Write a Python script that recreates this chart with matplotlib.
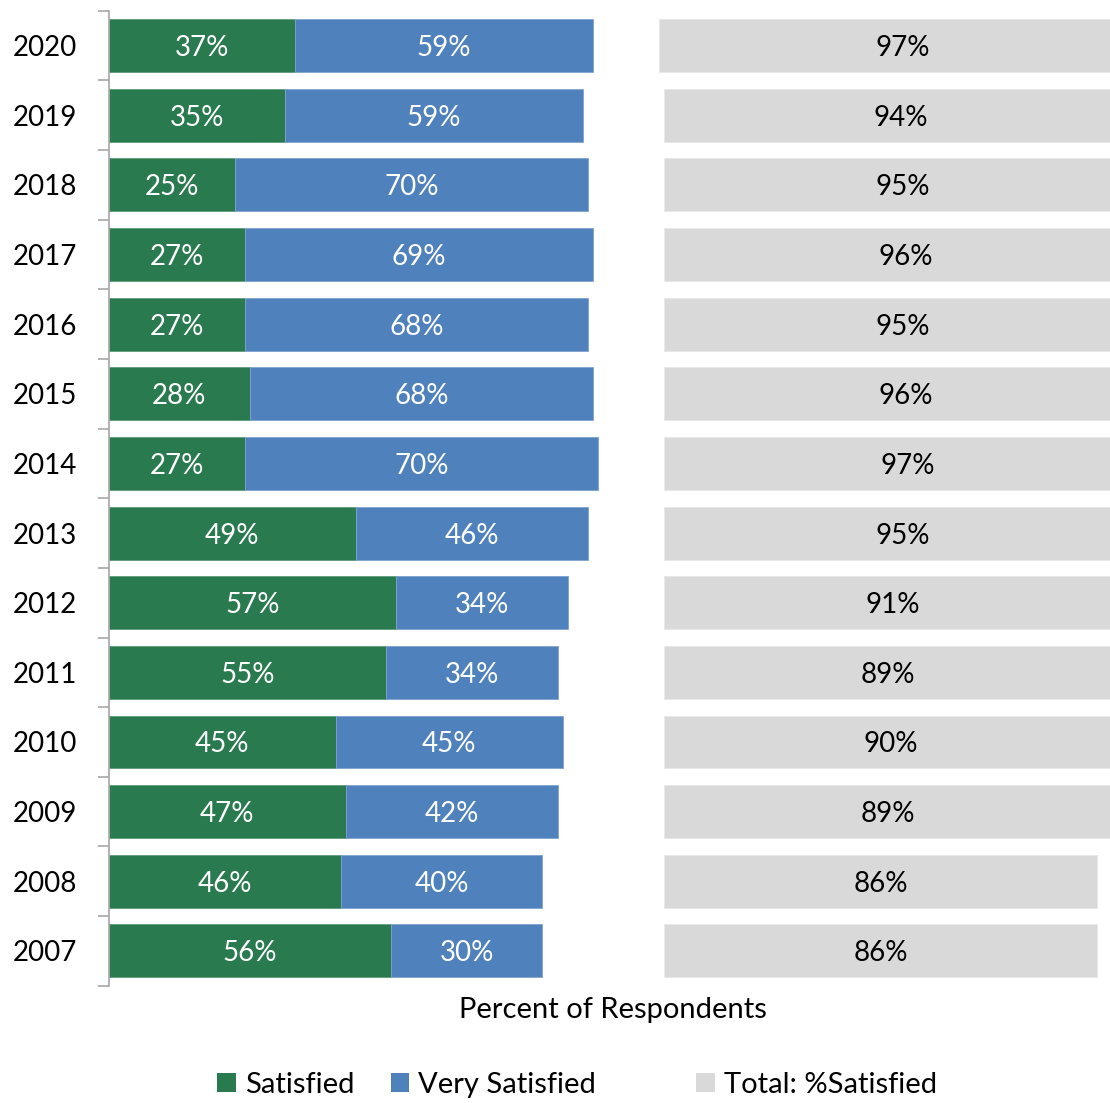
import numpy as np
import matplotlib.pyplot as plt
from matplotlib.patches import Patch

years = ['2020', '2019', '2018', '2017', '2016', '2015', '2014',
         '2013', '2012', '2011', '2010', '2009', '2008', '2007']
satisfied = [37, 35, 25, 27, 27, 28, 27, 49, 57, 55, 45, 47, 46, 56]
very_satisfied = [59, 59, 70, 69, 68, 68, 70, 46, 34, 34, 45, 42, 40, 30]
# invisible series that pushes the total bars over to the right
spacer = [13, 16, 15, 14, 15, 14, 13, 15, 19, 21, 20, 21, 24, 24]
total = [97, 94, 95, 96, 95, 96, 97, 95, 91, 89, 90, 89, 86, 86]

GREEN = '#2A7A50'
BLUE = '#4F81BD'
GRAY = '#D9D9D9'

plt.rcParams['font.family'] = ['Lato', 'DejaVu Sans']
FS = 20
FS_TEXT = 21

fig = plt.figure(figsize=(11.10, 11.03), dpi=100)
ax = fig.add_axes([0.0979, 0.1063, 1 - 0.0979, 0.9903 - 0.1063])

y = np.arange(len(years))
sat = np.array(satisfied)
vs = np.array(very_satisfied)
gap_start = sat + vs + np.array(spacer)
h = 0.76

ax.barh(y, sat, height=h, color=GREEN, edgecolor='#5E9A7A', linewidth=0.6)
ax.barh(y, vs, left=sat, height=h, color=BLUE, edgecolor='#7FA3CF', linewidth=0.6)
ax.barh(y, total, left=gap_start, height=h, color=GRAY, edgecolor='#E8E8E8', linewidth=0.6)

for i in range(len(years)):
    ax.text(sat[i] / 2, y[i], f'{satisfied[i]}%', color='white',
            ha='center', va='center_baseline', fontsize=FS)
    ax.text(sat[i] + vs[i] / 2, y[i], f'{very_satisfied[i]}%', color='white',
            ha='center', va='center_baseline', fontsize=FS)
    ax.text(gap_start[i] + total[i] / 2, y[i], f'{total[i]}%', color='black',
            ha='center', va='center_baseline', fontsize=FS)

ax.set_xlim(0, 198.5)
ax.set_ylim(len(years) - 0.5, -0.5)

ax.set_yticks(y)
ax.set_yticklabels(years, fontsize=FS, va='center_baseline')
ax.set_yticks(np.arange(-0.5, len(years), 1), minor=True)
ax.tick_params(axis='y', which='major', length=0, pad=23)
ax.tick_params(axis='y', which='minor', length=8, width=1.2, color='#A6A6A6')
ax.set_xticks([])

for side in ['top', 'right', 'bottom']:
    ax.spines[side].set_visible(False)
ax.spines['left'].set_color('#A6A6A6')
ax.spines['left'].set_linewidth(1.2)

ax.set_xlabel('Percent of Respondents', fontsize=FS_TEXT)
ax.xaxis.set_label_coords(0.504, -0.012)

# empty third entry stands in for the hidden spacer series
handles = [Patch(facecolor=GREEN), Patch(facecolor=BLUE),
           Patch(facecolor='none', edgecolor='none'), Patch(facecolor=GRAY)]
labels = ['Satisfied', 'Very Satisfied', '', 'Total: %Satisfied']
fig.legend(handles, labels, loc='center', bbox_to_anchor=(0.52, 0.0165),
           ncol=4, frameon=False, fontsize=FS_TEXT, handlelength=0.64,
           handleheight=0.64, handletextpad=0.3, columnspacing=1.25,
           borderpad=0.1)

fig.savefig('out.png', dpi=100)
